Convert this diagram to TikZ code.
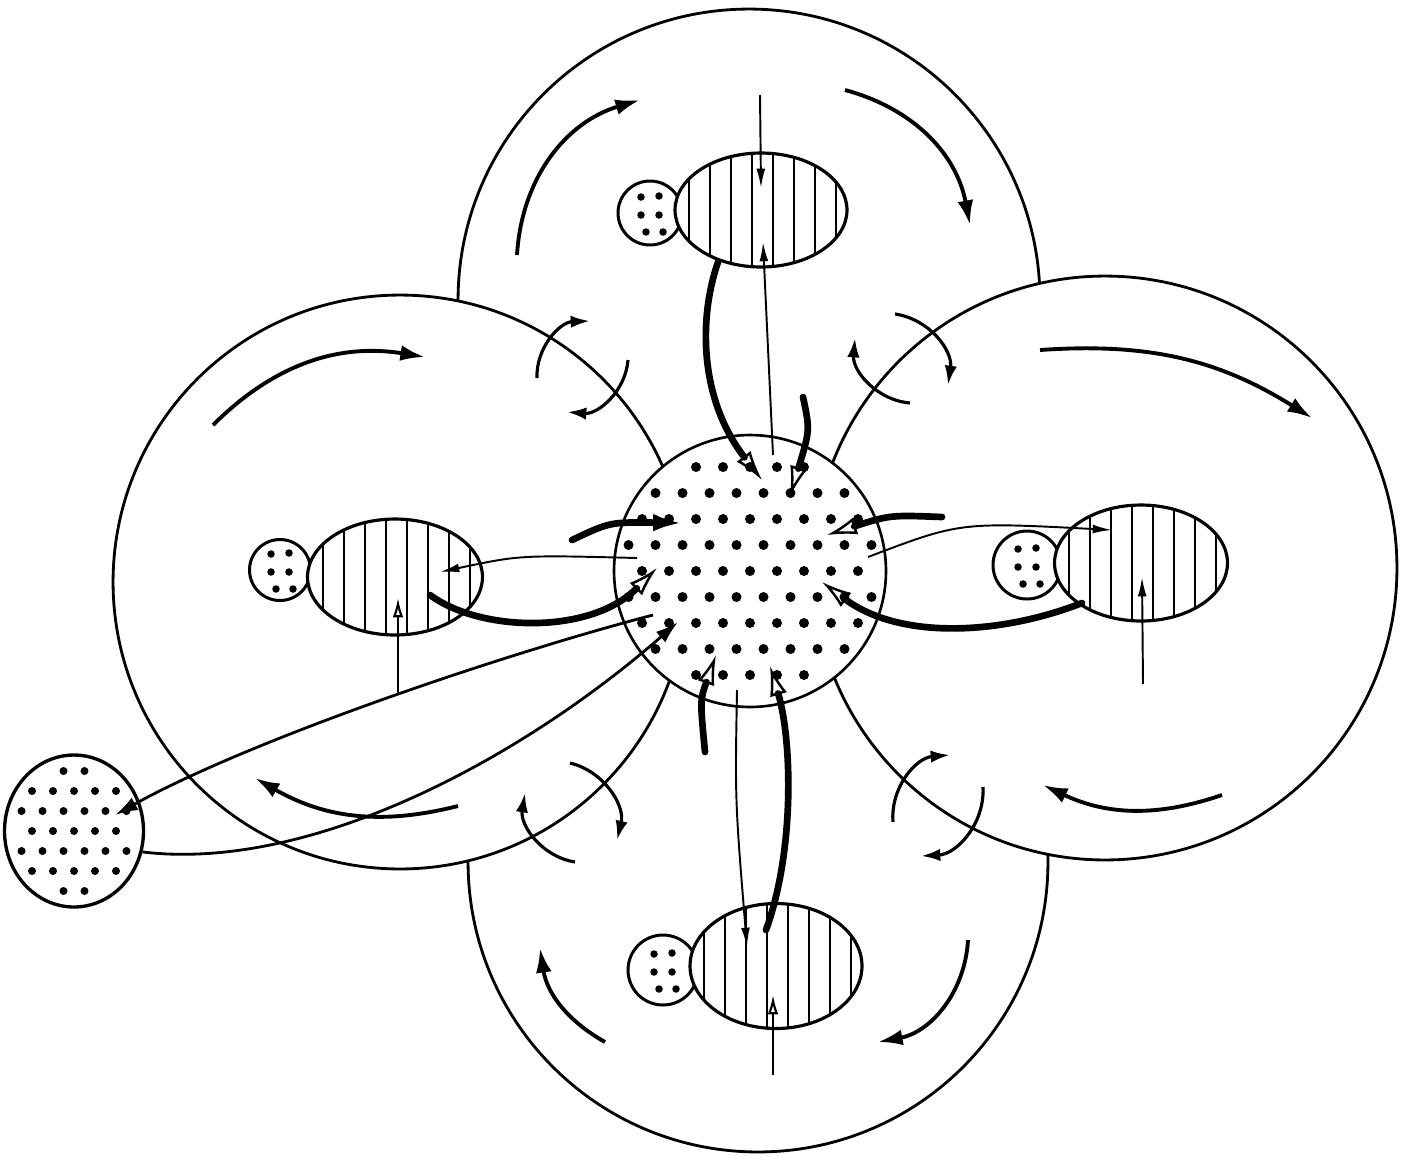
\documentclass[tikz,border=0pt]{standalone}
\usepackage{tikz}
\usetikzlibrary{arrows.meta, shapes.geometric, calc}

\newcommand{\coredots}{%
  \foreach \i in {-5,...,5}{%
    \foreach \j in {-5,...,5}{%
      \pgfmathsetmacro{\px}{(\j+0.5*abs(mod(\i,2)))*0.54}%
      \pgfmathsetmacro{\py}{\i*0.52}%
      \pgfmathtruncatemacro{\keep}{(\px*\px+\py*\py<6.4)}%
      \ifnum\keep=1 \fill[black] ([shift={(\px cm,\py cm)}]path picture bounding box.center) circle [radius=0.1cm];\fi
    }}}
\newcommand{\sinkdots}{%
  \foreach \i in {-4,...,4}{%
    \foreach \j in {-4,...,4}{%
      \pgfmathsetmacro{\px}{(\j+0.5*abs(mod(\i,2)))*0.42}%
      \pgfmathsetmacro{\py}{\i*0.4}%
      \pgfmathtruncatemacro{\keep}{((\px/1.15)^2+(\py/1.3)^2<1)}%
      \ifnum\keep=1 \fill[black] ([shift={(\px cm,\py cm)}]path picture bounding box.center) circle [radius=0.08cm];\fi
    }}}
\newcommand{\headdots}{%
  \foreach \p in {(-0.18cm,0.32cm),(0.18cm,0.34cm),(-0.18cm,-0.04cm),(0.18cm,-0.04cm),(-0.08cm,-0.38cm),(0.26cm,-0.38cm)}
    \fill[black] ([shift={\p}]path picture bounding box.center) circle [radius=0.075cm];}
\newcommand{\stripes}{%
  \foreach \k in {-3,...,4}
    \draw[line width=1.1pt] ([xshift=\k*0.42cm-0.18cm]path picture bounding box.north) -- ([xshift=\k*0.42cm-0.18cm]path picture bounding box.south);}

\tikzset{
  lobe/.style={circle, draw, line width=1.6pt, fill=white, inner sep=0pt},
  core/.style={circle, draw, line width=1.5pt, fill=white, inner sep=0pt, minimum size=5.44cm, path picture={\coredots}},
  head/.style={circle, draw, line width=1.7pt, fill=white, inner sep=0pt, path picture={\headdots}},
  body/.style={ellipse, draw, line width=1.8pt, fill=white, inner sep=0pt, path picture={\stripes}},
  sink/.style={ellipse, draw, line width=1.9pt, fill=white, inner sep=0pt, minimum width=2.78cm, minimum height=3.04cm, path picture={\sinkdots}},
  swirl/.style={line width=2.2pt, -{Latex[length=14pt,width=9pt]}},
  eddy/.style={line width=1.8pt, -{Latex[length=11pt,width=7pt]}},
  flow/.style={line width=1.1pt, -{Latex[length=11pt,width=5pt]}},
  flowopen/.style={line width=1.1pt, -{Latex[open,length=11pt,width=6pt,line width=1.2pt]}},
  bigflow/.style={line width=3.8pt, line cap=round, -{Latex[open,length=17pt,width=10pt,line width=1.4pt]}},
  bigfill/.style={line width=3.8pt, line cap=round, -{Latex[length=17pt,width=10pt]}},
  link/.style={line width=1.6pt, -{Latex[length=13pt,width=8pt]}}
}

\begin{document}
\begin{tikzpicture}[x=0.02cm, y=-0.02cm]
  \useasboundingbox (0,0) rectangle (1408,1157);

  % four lobes
  \node[lobe, minimum size=11.64cm] (lobeT) at (749,300) {};
  \node[lobe, minimum size=11.6cm] (lobeB) at (758,862) {};
  \node[lobe, minimum size=11.48cm] (lobeL) at (400,582) {};
  \node[lobe, minimum size=11.68cm] (lobeR) at (1105,568) {};

  % circulation in the lobes
  \draw[swirl] (517,255) to[bend left=35] (640,100);
  \draw[swirl] (845,90) to[bend left=32] (970,225);
  \draw[swirl] (213,425) to[bend left=27] (425,357);
  \draw[swirl] (458,806) to[bend left=22] (255,778);
  \draw[swirl] (1040,350) to[bend left=18] (1312,418);
  \draw[swirl] (1222,795) to[bend left=22] (1043,785);
  \draw[swirl] (605,1042) to[bend left=26] (540,948);
  \draw[swirl] (968,940) to[bend left=38] (878,1042);

  % eddies on the borders
  \draw[eddy] (537,378) to[bend left=45] (590,321);
  \draw[eddy] (628,360) to[bend left=45] (567,412);
  \draw[eddy] (895,314) to[bend left=45] (948,385);
  \draw[eddy] (910,403) to[bend left=45] (855,338);
  \draw[eddy] (570,763) to[bend left=45] (617,840);
  \draw[eddy] (575,862) to[bend left=45] (525,793);
  \draw[eddy] (893,822) to[bend left=45] (950,755);
  \draw[eddy] (983,787) to[bend left=45] (921,856);

  % core and cells
  \node[core] (core) at (750,571) {};
  \node[head, minimum size=1.28cm] (hT) at (650,213) {};
  \node[body, minimum width=3.44cm, minimum height=2.28cm] (bT) at (761,210) {};
  \node[head, minimum size=1.22cm] (hL) at (280,570) {};
  \node[body, minimum width=3.5cm, minimum height=2.32cm] (bL) at (395,577) {};
  \node[head, minimum size=1.36cm] (hR) at (1027,565) {};
  \node[body, minimum width=3.46cm, minimum height=2.32cm] (bR) at (1141,563) {};
  \node[head, minimum size=1.4cm] (hB) at (663,970) {};
  \node[body, minimum width=3.44cm, minimum height=2.5cm] (bB) at (776,966) {};
  \node[sink] (sink) at (74,831) {};

  % free ends
  \coordinate (srcT) at (760,95);   \coordinate (tipT) at (761,188);
  \coordinate (upT) at (773,455);   \coordinate (inT) at (763,242);
  \coordinate (dotT) at (718,262);  \coordinate (coreT) at (762,480);
  \coordinate (stubT) at (803,397); \coordinate (endT) at (790,496);
  \coordinate (srcL) at (398,694);  \coordinate (tipL) at (398,598);
  \coordinate (outL) at (637,558);  \coordinate (inL) at (440,572);
  \coordinate (dotL) at (430,595);  \coordinate (coreL) at (657,568);
  \coordinate (stubL) at (572,540); \coordinate (endL) at (683,523);
  \coordinate (srcR) at (1143,684); \coordinate (tipR) at (1142,577);
  \coordinate (outR) at (868,557);  \coordinate (inR) at (1112,530);
  \coordinate (dotR) at (1082,603); \coordinate (coreR) at (822,582);
  \coordinate (stubR) at (942,517); \coordinate (endR) at (827,535);
  \coordinate (srcB) at (773,1075); \coordinate (tipB) at (773,995);
  \coordinate (outB) at (737,690);  \coordinate (inB) at (747,947);
  \coordinate (dotB) at (766,930);  \coordinate (coreB) at (770,666);
  \coordinate (stubB) at (705,752); \coordinate (endB) at (716,655);
  \coordinate (outS) at (653,615);  \coordinate (inS) at (115,815);
  \coordinate (coreS) at (678,622);

  % top cell
  \draw[flow] (srcT) -- (tipT);
  \draw[flow] (upT) -- (inT);
  \draw[bigflow] (dotT) .. controls (698,320) and (700,400) .. (coreT);
  \draw[bigflow] (stubT) .. controls (810,430) .. (endT);
  % left cell
  \draw[flowopen] (srcL) -- (tipL);
  \draw[flow] (outL) .. controls (520,555) .. (inL);
  \draw[bigflow] (dotL) .. controls (480,632) and (590,635) .. (coreL);
  \draw[bigfill] (stubL) .. controls (610,522) .. (endL);
  % right cell
  \draw[flow] (srcR) -- (tipR);
  \draw[flow] (outR) .. controls (960,522) .. (inR);
  \draw[bigflow] (dotR) .. controls (1000,635) and (900,640) .. (coreR);
  \draw[bigflow] (stubR) .. controls (890,515) .. (endR);
  % bottom cell
  \draw[flowopen] (srcB) -- (tipB);
  \draw[flow] (outB) .. controls (735,800) .. (inB);
  \draw[bigflow] (dotB) .. controls (795,850) and (792,740) .. (coreB);
  \draw[bigflow] (stubB) .. controls (700,700) .. (endB);
  % exchange with the outer body
  \draw[link] (outS) .. controls (500,655) and (250,740) .. (inS);
  \draw[link] (sink.-17) .. controls (310,872) and (520,760) .. (coreS);
\end{tikzpicture}
\end{document}
